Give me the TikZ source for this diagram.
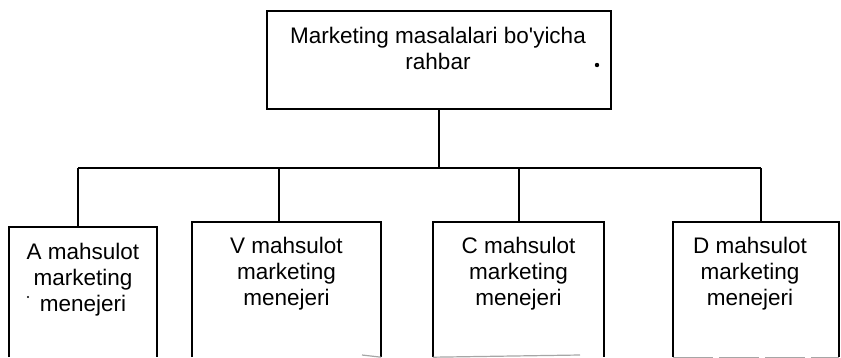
\documentclass[tikz,border=0pt]{standalone}
\usepackage{fontspec}
\setmainfont{Liberation Sans}[Ligatures=TeXOff]
\begin{document}
\begin{tikzpicture}[x=1pt,y=-1pt,
  line/.style={line width=1.6pt,black},
  frame/.style={draw=none,rectangle,inner sep=0pt},
  lbl/.style={inner sep=0pt,align=center,anchor=north,
    font=\fontsize{22.5}{26}\selectfont},
  faint/.style={line width=1.2pt,black!35}]
\useasboundingbox (0,0) rectangle (841,357);
% top box
\node[frame,minimum width=344pt,minimum height=98pt] (T) at (439,60) {};
\draw[line] (T.north west) rectangle (T.south east);
\node[lbl] (Tl) at (438,26.5) {Marketing masalalari bo'yicha\\rahbar};
\fill (597,65) circle (2.2pt);
% bottom boxes
\node[frame,minimum width=148pt,minimum height=130pt] (A) at (83,292) {};
\node[frame,minimum width=189pt,minimum height=135pt] (V) at (286.5,289.5) {};
\node[frame,minimum width=171pt,minimum height=135pt] (C) at (518.5,289.5) {};
\node[frame,minimum width=166pt,minimum height=135pt] (D) at (756,289.5) {};
\foreach \b in {A,V,C,D}{
  \draw[line] (\b.south west) -- (\b.north west) -- (\b.north east) -- (\b.south east);
}
\node[lbl] (Al) at (83,243) {A mahsulot\\marketing\\menejeri};
\node[lbl] (Vl) at (286.5,236.5) {V mahsulot\\marketing\\menejeri};
\node[lbl] (Cl) at (518.5,236.5) {C mahsulot\\marketing\\menejeri};
\node[lbl] (Dl) at (750,236.5) {D mahsulot\\marketing\\menejeri};
\fill (28,297) circle (1.2pt);
% faint bottom edges
\draw[faint] (362,355) -- (V.south east);
\draw[faint] (C.south west) -- (580,355);
\draw[faint,dash pattern=on 40pt off 6pt] (D.south west) -- (D.south east);
% connectors
\coordinate (jA) at (78,168);
\coordinate (jV) at (279,168);
\coordinate (jC) at (519,168);
\coordinate (jD) at (761,168);
\draw[line] (T.south) -- (T.south |- jA);
\draw[line] (jA) -- (jD);
\draw[line] (jA) -- (jA |- A.north);
\draw[line] (jV) -- (jV |- V.north);
\draw[line] (jC) -- (jC |- C.north);
\draw[line] (jD) -- (jD |- D.north);
\end{tikzpicture}
\end{document}
